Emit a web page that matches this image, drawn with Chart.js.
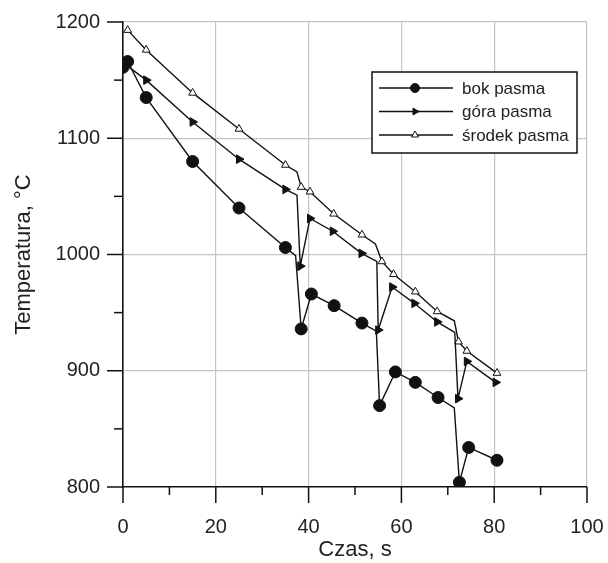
<!DOCTYPE html>
<html>
<head>
<meta charset="utf-8">
<script src="https://cdn.jsdelivr.net/npm/chart.js@4/dist/chart.umd.min.js"></script>
<style>
  html, body { margin: 0; padding: 0; background: #fff; }
  #wrap { width: 608px; height: 563px; }
</style>
</head>
<body>
<div id="wrap"><canvas id="c" width="608" height="563"></canvas></div>
<script>
// ---- data ----
const seriesNames = ['bok pasma', 'góra pasma', 'środek pasma'];

const bokTime   = [0, 1, 5, 15, 25, 35, 37.2, 38.4, 40.6, 45.5, 51.5, 54.6, 55.3, 58.7, 63, 67.9, 71.4, 72.5, 74.5, 80.6];
const bokTemp   = [1161, 1166, 1135, 1080, 1040, 1006, 999, 936, 966, 956, 941, 934, 870, 899, 890, 877, 868, 804, 834, 823];
const bokMarker = [1, 1, 1, 1, 1, 1, 0, 1, 1, 1, 1, 0, 1, 1, 1, 1, 0, 1, 1, 1];

const goraTime   = [1, 5, 15, 25, 35, 37.5, 38.2, 40.3, 45.2, 51.4, 54.7, 55.0, 58.0, 62.8, 67.7, 71.5, 72.2, 74.1, 80.3];
const goraTemp   = [1162, 1150, 1114, 1082, 1056, 1051, 990, 1031, 1020, 1001, 994, 935, 972, 958, 942, 933, 876, 908, 890];
const goraMarker = [0, 1, 1, 1, 1, 0, 1, 1, 1, 1, 0, 1, 1, 1, 1, 0, 1, 1, 1];

const srodekTime   = [1, 5, 15, 25, 35, 37.5, 38.4, 40.3, 45.4, 51.5, 54.4, 55.8, 58.3, 63, 67.7, 71.4, 72.3, 74.1, 80.6];
const srodekTemp   = [1193, 1176, 1139, 1108, 1077, 1071, 1058, 1054, 1035, 1017, 1009, 994, 983, 968, 951, 943, 925, 917, 898];
const srodekMarker = [1, 1, 1, 1, 1, 0, 1, 1, 1, 1, 0, 1, 1, 1, 1, 0, 1, 1, 1];

const xTicks = [0, 20, 40, 60, 80, 100];
const yTicks = [800, 900, 1000, 1100, 1200];
const xTitle = 'Czas, s';
const yTitle = 'Temperatura, °C';

// ---- helpers ----
function pts(xs, ys) { return xs.map((x, i) => ({ x: x, y: ys[i] })); }

const FONT = '"Liberation Sans", Arial, sans-serif';
const GRID = '#c4c4c4';

const styles = [
  { pointStyle: 'circle', radius: 6, rotation: 0, fill: '#111' },
  { pointStyle: 'triangle', radius: 5, rotation: 90, fill: '#111' },
  { pointStyle: 'triangle', radius: 4.5, rotation: 0, fill: '#fff' }
];
const dataSets = [
  { t: bokTime, v: bokTemp, m: bokMarker },
  { t: goraTime, v: goraTemp, m: goraMarker },
  { t: srodekTime, v: srodekTemp, m: srodekMarker }
];

const datasets = dataSets.map((d, i) => ({
  label: seriesNames[i],
  data: pts(d.t, d.v),
  borderColor: '#111',
  borderWidth: 1.4,
  pointStyle: styles[i].pointStyle,
  pointRotation: styles[i].rotation,
  pointRadius: d.m.map(f => f ? styles[i].radius : 0),
  pointBackgroundColor: styles[i].fill,
  pointBorderColor: '#111',
  pointBorderWidth: 1,
  tension: 0,
  fill: false
}));

function noPad(scale) {
  scale.paddingTop = 0; scale.paddingBottom = 0;
  scale.paddingLeft = 0; scale.paddingRight = 0;
}

// minor/major ticks pointing outward + legend box
const decor = {
  id: 'decor',
  afterDraw(chart) {
    const ctx = chart.ctx;
    const xs = chart.scales.x, ys = chart.scales.y;
    const area = chart.chartArea;
    ctx.save();
    ctx.strokeStyle = '#111';
    ctx.lineWidth = 1.5;
    for (let v = 0; v <= 100; v += 10) {
      const px = xs.getPixelForValue(v);
      const len = (v % 20 === 0) ? 16 : 8;
      ctx.beginPath();
      ctx.moveTo(px, area.bottom);
      ctx.lineTo(px, area.bottom + len);
      ctx.stroke();
    }
    for (let v = 800; v <= 1200; v += 50) {
      const py = ys.getPixelForValue(v);
      const len = (v % 100 === 0) ? 16 : 9;
      ctx.beginPath();
      ctx.moveTo(area.left, py);
      ctx.lineTo(area.left - len, py);
      ctx.stroke();
    }
    // legend
    const bx = 372, by = 72, bw = 205, bh = 81;
    ctx.fillStyle = '#fff';
    ctx.fillRect(bx, by, bw, bh);
    ctx.lineWidth = 1.5;
    ctx.strokeStyle = '#111';
    ctx.strokeRect(bx, by, bw, bh);
    const rows = [88, 111.5, 135];
    ctx.font = '17px ' + FONT;
    ctx.textBaseline = 'middle';
    ctx.textAlign = 'left';
    seriesNames.forEach((name, i) => {
      const y = rows[i];
      ctx.strokeStyle = '#111';
      ctx.lineWidth = 1.4;
      ctx.beginPath();
      ctx.moveTo(379, y);
      ctx.lineTo(453, y);
      ctx.stroke();
      ctx.fillStyle = styles[i].fill;
      ctx.strokeStyle = '#111';
      ctx.lineWidth = 1;
      Chart.helpers.drawPoint(ctx, {
        pointStyle: styles[i].pointStyle,
        radius: i === 0 ? 4.5 : 4,
        rotation: styles[i].rotation,
        borderWidth: 1
      }, 415, y);
      ctx.fillStyle = '#222';
      ctx.fillText(name, 462, y + 1);
    });
    ctx.restore();
  }
};

new Chart(document.getElementById('c'), {
  type: 'line',
  data: { datasets: datasets },
  options: {
    responsive: false,
    animation: false,
    devicePixelRatio: 1,
    layout: { padding: { left: 11, right: 21, top: 22, bottom: 0 } },
    plugins: { legend: { display: false }, tooltip: { enabled: false } },
    scales: {
      x: {
        type: 'linear',
        min: 0, max: 100,
        afterBuildTicks(scale) { scale.ticks = xTicks.map(v => ({ value: v })); },
        afterFit(scale) { scale.height = 76; noPad(scale); },
        ticks: { font: { family: FONT, size: 20 }, color: '#222', padding: 28, maxRotation: 0,
                 callback: v => String(v) },
        grid: {
          drawTicks: false,
          color: ctx => (ctx.tick && ctx.tick.value === 0) ? 'rgba(0,0,0,0)' : GRID,
          lineWidth: 1.2
        },
        border: { display: true, color: '#111', width: 1.6 },
        title: { display: true, text: xTitle, font: { family: FONT, size: 22 }, color: '#222', padding: { top: 0, bottom: 0 } }
      },
      y: {
        type: 'linear',
        min: 800, max: 1200,
        afterBuildTicks(scale) { scale.ticks = yTicks.map(v => ({ value: v })); },
        afterFit(scale) { scale.width = 112; noPad(scale); },
        ticks: { font: { family: FONT, size: 20 }, color: '#222', padding: 23,
                 callback: v => String(v) },
        grid: {
          drawTicks: false,
          color: ctx => (ctx.tick && ctx.tick.value === 800) ? 'rgba(0,0,0,0)' : GRID,
          lineWidth: 1.2
        },
        border: { display: true, color: '#111', width: 1.6 },
        title: { display: true, text: yTitle, font: { family: FONT, size: 22 }, color: '#222', padding: { top: 0, bottom: 0 } }
      }
    }
  },
  plugins: [decor]
});
</script>
</body>
</html>
